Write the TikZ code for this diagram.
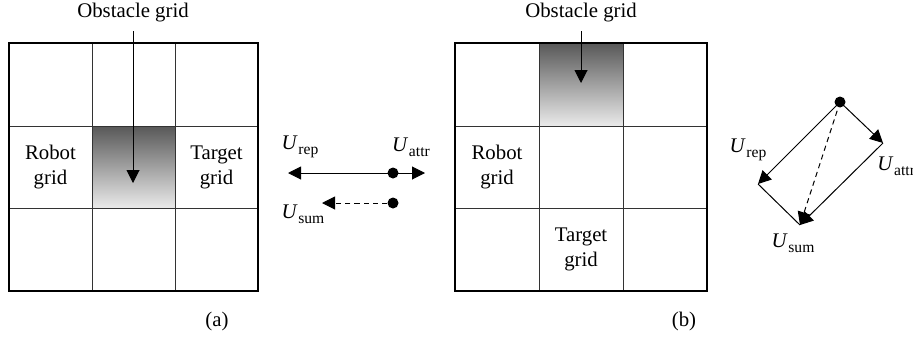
\documentclass[tikz,border=0pt]{standalone}
\usepackage{fontspec}
\setmainfont{Liberation Serif}
\usetikzlibrary{arrows.meta}
\definecolor{obtop}{RGB}{88,88,88}
\definecolor{obbot}{RGB}{234,234,234}
\newcommand\Ulab[1]{\textit{U}\kern0.3pt\raisebox{-0.5ex}{\fontsize{7.8}{9}\selectfont #1}}
\begin{document}
\begin{tikzpicture}[x=0.5pt,y=-0.5pt,
  font=\fontsize{10.4}{12.5}\selectfont,
  outer/.style={draw=black,line width=0.6pt},
  inner/.style={draw=black!80,line width=0.5pt},
  obst/.style={top color=obtop,bottom color=obbot,draw=none},
  arr/.style={-{Triangle[length=6.5pt,width=6.5pt]},line width=0.5pt},
  dsh/.style={dash pattern=on 2.6pt off 2pt},
  lbl/.style={align=center,inner sep=0pt},
  dotn/.style={circle,fill=black,inner sep=0pt,minimum size=5.5pt}]
\useasboundingbox (0,0) rectangle (913,337);

% ---------- grid (a) ----------
\fill[obst] (92,126) rectangle (175,208);
\draw[inner] (92,43) -- (92,291) (175,43) -- (175,291)
             (9,126) -- (258,126) (9,208) -- (258,208);
\draw[outer] (9,43) rectangle (258,291);
\node[lbl] (ra) at (50.5,167) {Robot\\grid};
\node[lbl] (ta) at (216.5,167) {Target\\grid};
\node[lbl,anchor=base] (oa) at (133,17.5) {Obstacle grid};
\coordinate (oas) at (133,31);
\coordinate (oae) at (133,183);
\draw[arr] (oas) -- (oae);
\node[lbl] (capa) at (217,321) {(a)};

% ---------- middle vectors ----------
\node[dotn] (d1) at (393,173) {};
\coordinate (rep1) at (288,173);
\coordinate (att1) at (425,173);
\draw[arr] (d1.center) -- (rep1);
\draw[arr] (d1.center) -- (att1);
\node[dotn] (d2) at (393,203) {};
\coordinate (sum1) at (322,203);
\draw[arr,dsh] (d2) -- (sum1);
\node[lbl] (lrep1) at (300,147) {\Ulab{rep}};
\node[lbl] (latt1) at (411,147) {\Ulab{attr}};
\node[lbl] (lsum1) at (303,214) {\Ulab{sum}};

% ---------- grid (b) ----------
\fill[obst] (539,43) rectangle (623,126);
\draw[inner] (539,43) -- (539,291) (623,43) -- (623,291)
             (455,126) -- (707,126) (455,208) -- (707,208);
\draw[outer] (455,43) rectangle (707,291);
\node[lbl] (rb) at (497,167) {Robot\\grid};
\node[lbl] (tb) at (581,249) {Target\\grid};
\node[lbl,anchor=base] (ob) at (581,17.5) {Obstacle grid};
\coordinate (obs) at (581,31);
\coordinate (obe) at (581,83);
\draw[arr] (obs) -- (obe);
\node[lbl] (capb) at (684,321) {(b)};

% ---------- right vectors ----------
\node[dotn] (d3) at (840,102) {};
\coordinate (A) at (883,143);
\coordinate (R) at (758,184);
\coordinate (S) at (800,225);
\draw[arr] (d3.center) -- (A);
\draw[arr] (d3.center) -- (R);
\draw[line width=0.5pt] (R) -- (S);
\draw[arr] (A) -- (S);
\draw[arr,dsh] (d3.center) -- (S);
\node[lbl] (lrep2) at (748,150) {\Ulab{rep}};
\node[lbl,anchor=west] (latt2) at (877,166) {\Ulab{attr}};
\node[lbl] (lsum2) at (793,243) {\Ulab{sum}};
\end{tikzpicture}
\end{document}
